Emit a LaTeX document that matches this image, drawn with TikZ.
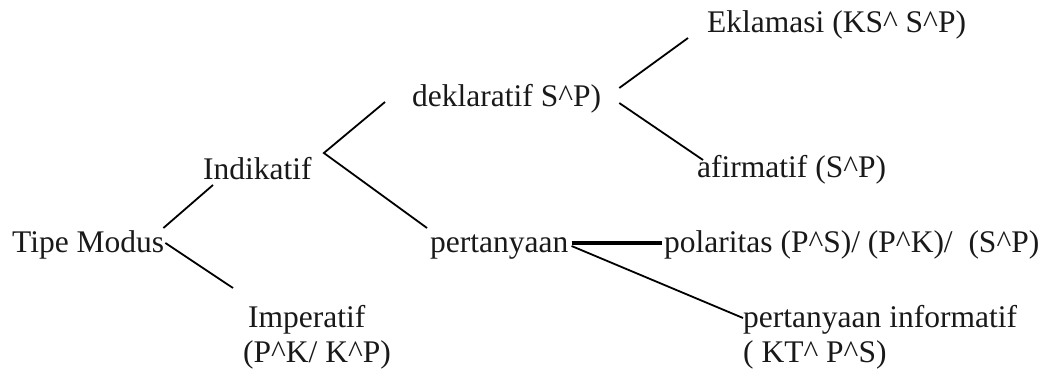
\documentclass[tikz,border=0pt]{standalone}
\usepackage{fontspec}
\setmainfont{Liberation Serif}
\newcommand{\crt}{\textasciicircum}
\begin{document}
\begin{tikzpicture}[x=1pt,y=1pt,
  lbl/.style={anchor=base west,inner sep=0pt,font=\fontsize{31.5}{36}\selectfont,text=black!90},
  conn/.style={line width=1.8pt,black},
  thickconn/.style={line width=3.2pt,black}]
\useasboundingbox (0,0) rectangle (1051,372);
\node[lbl] (tm) at (12,119) {Tipe Modus};
\node[lbl] (ind) at (203,192) {Indikatif};
\node[lbl] (imp) at (248,45) {Imperatif};
\node[lbl] (imp2) at (243,10) {(P\crt K/ K\crt P)};
\node[lbl] (dek) at (412,265) {deklaratif S\crt P)};
\node[lbl] (per) at (430,119) {pertanyaan};
\node[lbl] (ekl) at (707,339) {Eklamasi (KS\crt{} S\crt P)};
\node[lbl] (afi) at (697,194) {afirmatif (S\crt P)};
\node[lbl] (pol) at (664,119) {polaritas (P\crt S)/ (P\crt K)/\ \ (S\crt P)};
\node[lbl] (pinf) at (743,45) {pertanyaan informatif};
\node[lbl] (pinf2) at (743,10) {(\ KT\crt{} P\crt S)};
\draw[conn] ([shift={(-1,25)}]tm.base east) -- ([shift={(10,-5)}]ind.base west);
\draw[conn] ([shift={(1,10)}]tm.base east) -- ([shift={(-15,39)}]imp.base west);
\draw[conn] ([shift={(-27,5)}]dek.base west) -- ([shift={(12,27)}]ind.base east) -- ([shift={(-3,25)}]per.base west);
\draw[conn] ([shift={(-19,-5)}]ekl.base west) -- ([shift={(18,19)}]dek.base east);
\draw[conn] ([shift={(18,4)}]dek.base east) -- ([shift={(6,18)}]afi.base west);
\draw[thickconn] ([shift={(3,10)}]per.base east) -- ([shift={(-2,10)}]pol.base west);
\draw[conn] ([shift={(3,7)}]per.base east) -- ([shift={(0,9)}]pinf.base west);
\end{tikzpicture}
\end{document}
